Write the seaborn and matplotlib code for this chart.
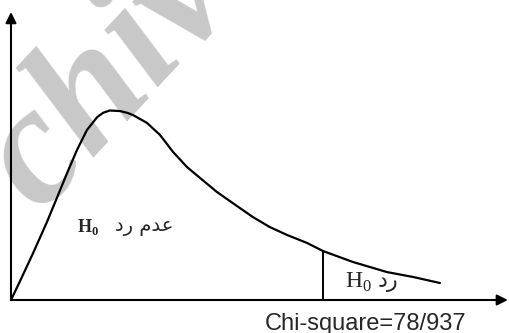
import matplotlib
matplotlib.use("Agg")
import matplotlib.pyplot as plt
import seaborn as sns

# chi-square curve (x in chi-square units, y relative height)
chi_x = [0, 2.3, 5.6, 9.1, 11.6, 14.2, 16.7, 19.2, 21.8, 23.3, 25.0,
         27.6, 29.4, 30.9, 34.4, 37.7, 41.0, 44.5, 47.8, 52.1, 57.2,
         61.2, 65.5, 69.8, 74.9, 78.937, 86.5, 95.1, 101.7, 108.5]
density = [0.0, 0.066, 0.163, 0.271, 0.354, 0.441, 0.521, 0.590, 0.635, 0.650, 0.658,
           0.656, 0.650, 0.642, 0.615, 0.573, 0.514, 0.462, 0.424, 0.375, 0.326,
           0.288, 0.253, 0.226, 0.198, 0.170, 0.132, 0.097, 0.080, 0.059]
critical_value = 78.937
critical_label = "Chi-square=78/937"
# Arabic glyphs in visual (left-to-right) order, presentation forms
accept_text = "\uFEA9\uFEAD \uFEE1\uFEAA\uFECB"   # عدم رد
reject_text = "\uFEA9\uFEAD"                       # رد

sns.set_style("white")
plt.rcParams["font.family"] = ["DejaVu Sans"]
plt.rcParams["mathtext.fontset"] = "custom"
plt.rcParams["mathtext.rm"] = "Liberation Serif"
plt.rcParams["mathtext.bf"] = "Liberation Serif:bold"

fig = plt.figure(figsize=(5.09, 3.33), dpi=100)
ax = fig.add_axes([0, 0, 1, 1])
ax.set_xlim(-2.78, 125.98)
ax.set_ylim(-0.1146, 1.0417)
ax.axis("off")

# watermark
ax.text(0.265, 0.85, "chive", transform=ax.transAxes, rotation=47,
        ha="center", va="center", fontsize=122, color="#c8c8c8",
        family="Liberation Serif", weight="bold", style="italic", zorder=0)

# axes with arrows
arrow = dict(arrowstyle="-|>", color="black", lw=1.5, mutation_scale=16,
             shrinkA=0, shrinkB=0)
ax.annotate("", xy=(0, 1.0), xytext=(0, 0), arrowprops=arrow, zorder=3)
ax.annotate("", xy=(125.7, 0), xytext=(0, 0), arrowprops=arrow, zorder=3)

sns.lineplot(x=chi_x, y=density, ax=ax, color="black", lw=1.6,
             sort=False, estimator=None, zorder=4)
crit_y = density[chi_x.index(critical_value)]
ax.plot([critical_value, critical_value], [0, crit_y], color="black", lw=1.4, zorder=4)

# labels
ax.text(16.7, 0.236, r"$\mathbf{H}_\mathbf{0}$", fontsize=13, ha="left", va="baseline")
ax.text(26.3, 0.24, accept_text, fontsize=14, ha="left", va="baseline")
ax.text(84.5, 0.042, r"$\mathrm{H}_0$", fontsize=17, ha="left", va="baseline")
ax.text(92.8, 0.045, reject_text, fontsize=16, ha="left", va="baseline")
ax.text(89.8, -0.104, critical_label, fontsize=17, family="Liberation Sans",
        ha="center", va="baseline")

fig.savefig("out.png", dpi=100)
